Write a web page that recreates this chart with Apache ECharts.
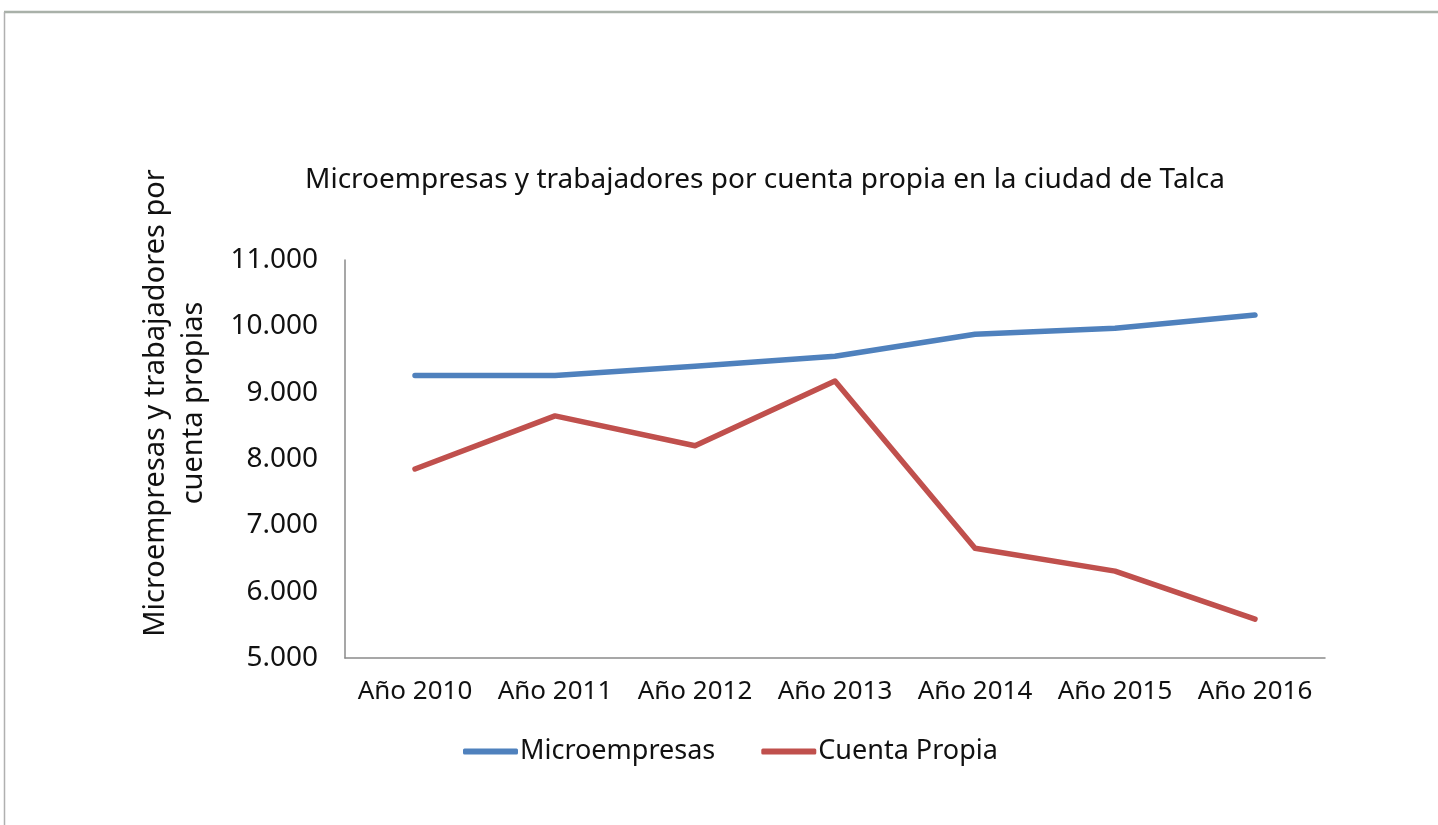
<!DOCTYPE html>
<html>
<head>
<meta charset="utf-8">
<script src="https://cdn.jsdelivr.net/npm/echarts@6/dist/echarts.min.js"></script>
<style>
html,body{margin:0;padding:0;background:#fff;}
#chart{width:1438px;height:825px;}
</style>
</head>
<body>
<div id="chart"></div>
<script>
var categories = ['Año 2010','Año 2011','Año 2012','Año 2013','Año 2014','Año 2015','Año 2016'];
var microempresas = [9260, 9260, 9400, 9550, 9880, 9970, 10170];
var cuentaPropia = [7850, 8650, 8200, 9175, 6655, 6310, 5585];
var seriesNames = ['Microempresas', 'Cuenta Propia'];
var titleText = 'Microempresas y trabajadores por cuenta propia en la ciudad de Talca';
var yAxisTitle = 'Microempresas y trabajadores por\ncuenta propias';

var FONT = '"Noto Sans", "Open Sans", sans-serif';
var chart = echarts.init(document.getElementById('chart'), null, {renderer:'canvas'});
function fmt(v){ return String(v).replace(/\B(?=(\d{3})+(?!\d))/g, '.'); }

chart.setOption({
  animation: false,
  backgroundColor: '#ffffff',
  title: {
    text: titleText,
    left: 760,
    textAlign: 'center',
    top: 161,
    textStyle: {fontFamily: FONT, fontSize: 28, fontWeight: 'normal', color: '#111'}
  },
  legend: {
    top: 733,
    left: 458,
    itemWidth: 55,
    itemHeight: 6,
    itemGap: 46,
    icon: 'roundRect',
    textStyle: {fontFamily: FONT, fontSize: 27, color: '#111', padding: [0,0,0,-3]},
    data: seriesNames
  },
  grid: {left: 345, right: 113, top: 260, bottom: 167, containLabel: false},
  xAxis: {
    type: 'category',
    data: categories,
    boundaryGap: true,
    axisLine: {lineStyle: {color: '#8a8a8a', width: 1.5}},
    axisTick: {show: false},
    axisLabel: {fontFamily: FONT, fontSize: 26, color: '#111', margin: 21, interval: 0}
  },
  yAxis: {
    type: 'value',
    min: 5000, max: 11000, interval: 1000,
    axisLine: {show: true, lineStyle: {color: '#8a8a8a', width: 1.5}},
    axisTick: {show: false},
    splitLine: {show: false},
    axisLabel: {fontFamily: FONT, fontSize: 28, color: '#111', margin: 27, formatter: fmt}
  },
  series: [
    {name: seriesNames[0], type: 'line', data: microempresas, symbol: 'none', color: '#4f81bd',
     lineStyle: {width: 5.5, color: '#4f81bd', cap: 'round', join: 'round'}},
    {name: seriesNames[1], type: 'line', data: cuentaPropia, symbol: 'none', color: '#c0504d',
     lineStyle: {width: 5.5, color: '#c0504d', cap: 'round', join: 'round'}}
  ],
  graphic: [
    {type: 'line', shape: {x1: 4, y1: 12, x2: 1438, y2: 12}, style: {stroke: '#a9b1a9', lineWidth: 2.5}},
    {type: 'line', shape: {x1: 4.5, y1: 12, x2: 4.5, y2: 825}, style: {stroke: '#b0b0b0', lineWidth: 1.5}},
    {type: 'text', x: 175, y: 403, rotation: Math.PI/2,
     style: {text: yAxisTitle, fontFamily: FONT, fontSize: 29, fill: '#111', align: 'center', verticalAlign: 'middle', lineHeight: 38}}
  ]
});
</script>
</body>
</html>
